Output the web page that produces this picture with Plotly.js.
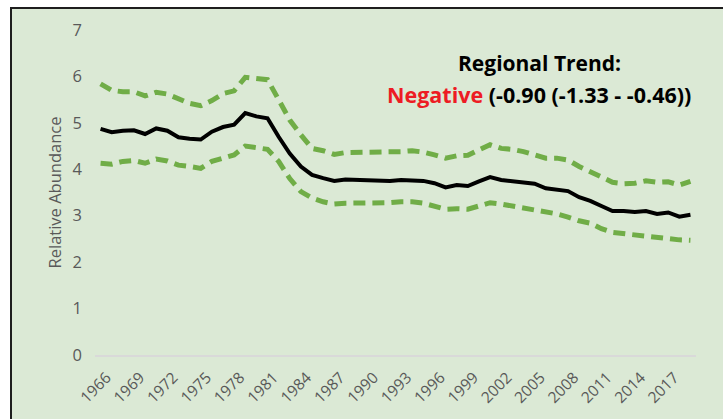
<!DOCTYPE html>
<html>
<head>
<meta charset="utf-8">
<script src="https://cdn.plot.ly/plotly-3.0.1.min.js"></script>
<style>
  html, body { margin:0; padding:0; background:#ffffff; width:723px; height:419px; overflow:hidden; }
  #chart { position:absolute; left:10px; top:7px; width:713px; height:412px;
           border-top:2px solid #1e1e1e; border-left:2px solid #1e1e1e; box-sizing:border-box; }
</style>
</head>
<body>
<div id="chart"></div>
<script>
const years = [];
for (let y = 1966; y <= 2019; y++) years.push(y);

const meanIndex = [4.87,4.80,4.83,4.84,4.76,4.88,4.83,4.69,4.66,4.64,
                   4.81,4.91,4.96,5.21,5.14,5.10,4.70,4.34,4.06,3.88,
                   3.81,3.75,3.78,3.77,3.76,3.75,3.75,3.77,3.77,3.75,
                   3.70,3.61,3.66,3.64,3.74,3.83,3.77,3.75,3.72,3.69,
                   3.59,3.56,3.53,3.40,3.32,3.21,3.10,3.10,3.08,3.10,
                   3.04,3.07,2.98,3.02];

const upperCI = [5.84,5.70,5.67,5.67,5.58,5.66,5.62,5.51,5.42,5.37,
                 5.48,5.63,5.69,5.98,5.96,5.93,5.50,5.06,4.74,4.45,
                 4.40,4.32,4.36,4.36,4.36,4.37,4.37,4.38,4.40,4.37,
                 4.31,4.24,4.29,4.30,4.42,4.53,4.45,4.43,4.38,4.31,
                 4.24,4.24,4.20,4.06,3.95,3.83,3.72,3.69,3.70,3.75,
                 3.72,3.73,3.66,3.74];

const lowerCI = [4.13,4.11,4.17,4.19,4.13,4.22,4.18,4.09,4.06,4.02,
                 4.17,4.24,4.31,4.50,4.47,4.43,4.17,3.80,3.52,3.38,
                 3.30,3.25,3.27,3.27,3.27,3.27,3.28,3.30,3.30,3.27,
                 3.20,3.14,3.15,3.14,3.21,3.28,3.25,3.21,3.16,3.14,
                 3.08,3.04,2.97,2.89,2.84,2.72,2.64,2.61,2.59,2.57,
                 2.54,2.51,2.48,2.47];

const tickYears = [1966,1969,1972,1975,1978,1981,1984,1987,1990,1993,1996,1999,2002,2005,2008,2011,2014,2017];
const tickLabels = tickYears.map(String);

const green = '#70AD47';
const traces = [
  { x: years, y: upperCI, type:'scatter', mode:'lines',
    line:{color:green, width:5, dash:'12px,7px'}, hoverinfo:'skip' },
  { x: years, y: lowerCI, type:'scatter', mode:'lines',
    line:{color:green, width:5, dash:'12px,7px'}, hoverinfo:'skip' },
  { x: years, y: meanIndex, type:'scatter', mode:'lines',
    line:{color:'#000000', width:4} }
];

const layout = {
  width: 711, height: 410,
  margin: {l:83, r:27, t:21, b:64},
  paper_bgcolor:'#DBE9D5', plot_bgcolor:'#DBE9D5',
  showlegend:false,
  font:{family:'Open Sans, Liberation Sans, sans-serif', color:'#595959'},
  xaxis:{
    range:[1965.5, 2019.5],
    tickmode:'array', tickvals:tickYears, ticktext:tickLabels,
    tickangle:-45, tickfont:{size:15.5, color:'#595959'},
    ticklabelshift:6, ticklabelstandoff:6,
    showgrid:false, zeroline:false,
    showline:true, linecolor:'#D9D9D9', linewidth:1.5,
    ticks:''
  },
  yaxis:{
    range:[0,7], dtick:1, tick0:0,
    tickfont:{size:16.5, color:'#595959'},
    showgrid:false, zeroline:false, showline:false, ticks:'',
    ticklabelstandoff:12,
    title:{text:'Relative Abundance', font:{size:16.5, color:'#595959'}, standoff:6}
  },
  annotations:[
    { xref:'paper', yref:'paper', x:0.739, y:0.898, xanchor:'center', yanchor:'middle',
      text:'<b>Regional Trend:</b>', showarrow:false,
      font:{size:21, color:'#000000', family:'Open Sans, Liberation Sans, sans-serif'} },
    { xref:'paper', yref:'paper', x:0.739, y:0.80, xanchor:'center', yanchor:'middle',
      text:'<b><span style="color:#ED1C24">Negative</span> (-0.90 (-1.33 - -0.46))</b>', showarrow:false,
      font:{size:21.5, color:'#000000', family:'Open Sans, Liberation Sans, sans-serif'} }
  ]
};

Plotly.newPlot('chart', traces, layout, {displayModeBar:false, staticPlot:true});
</script>
</body>
</html>
